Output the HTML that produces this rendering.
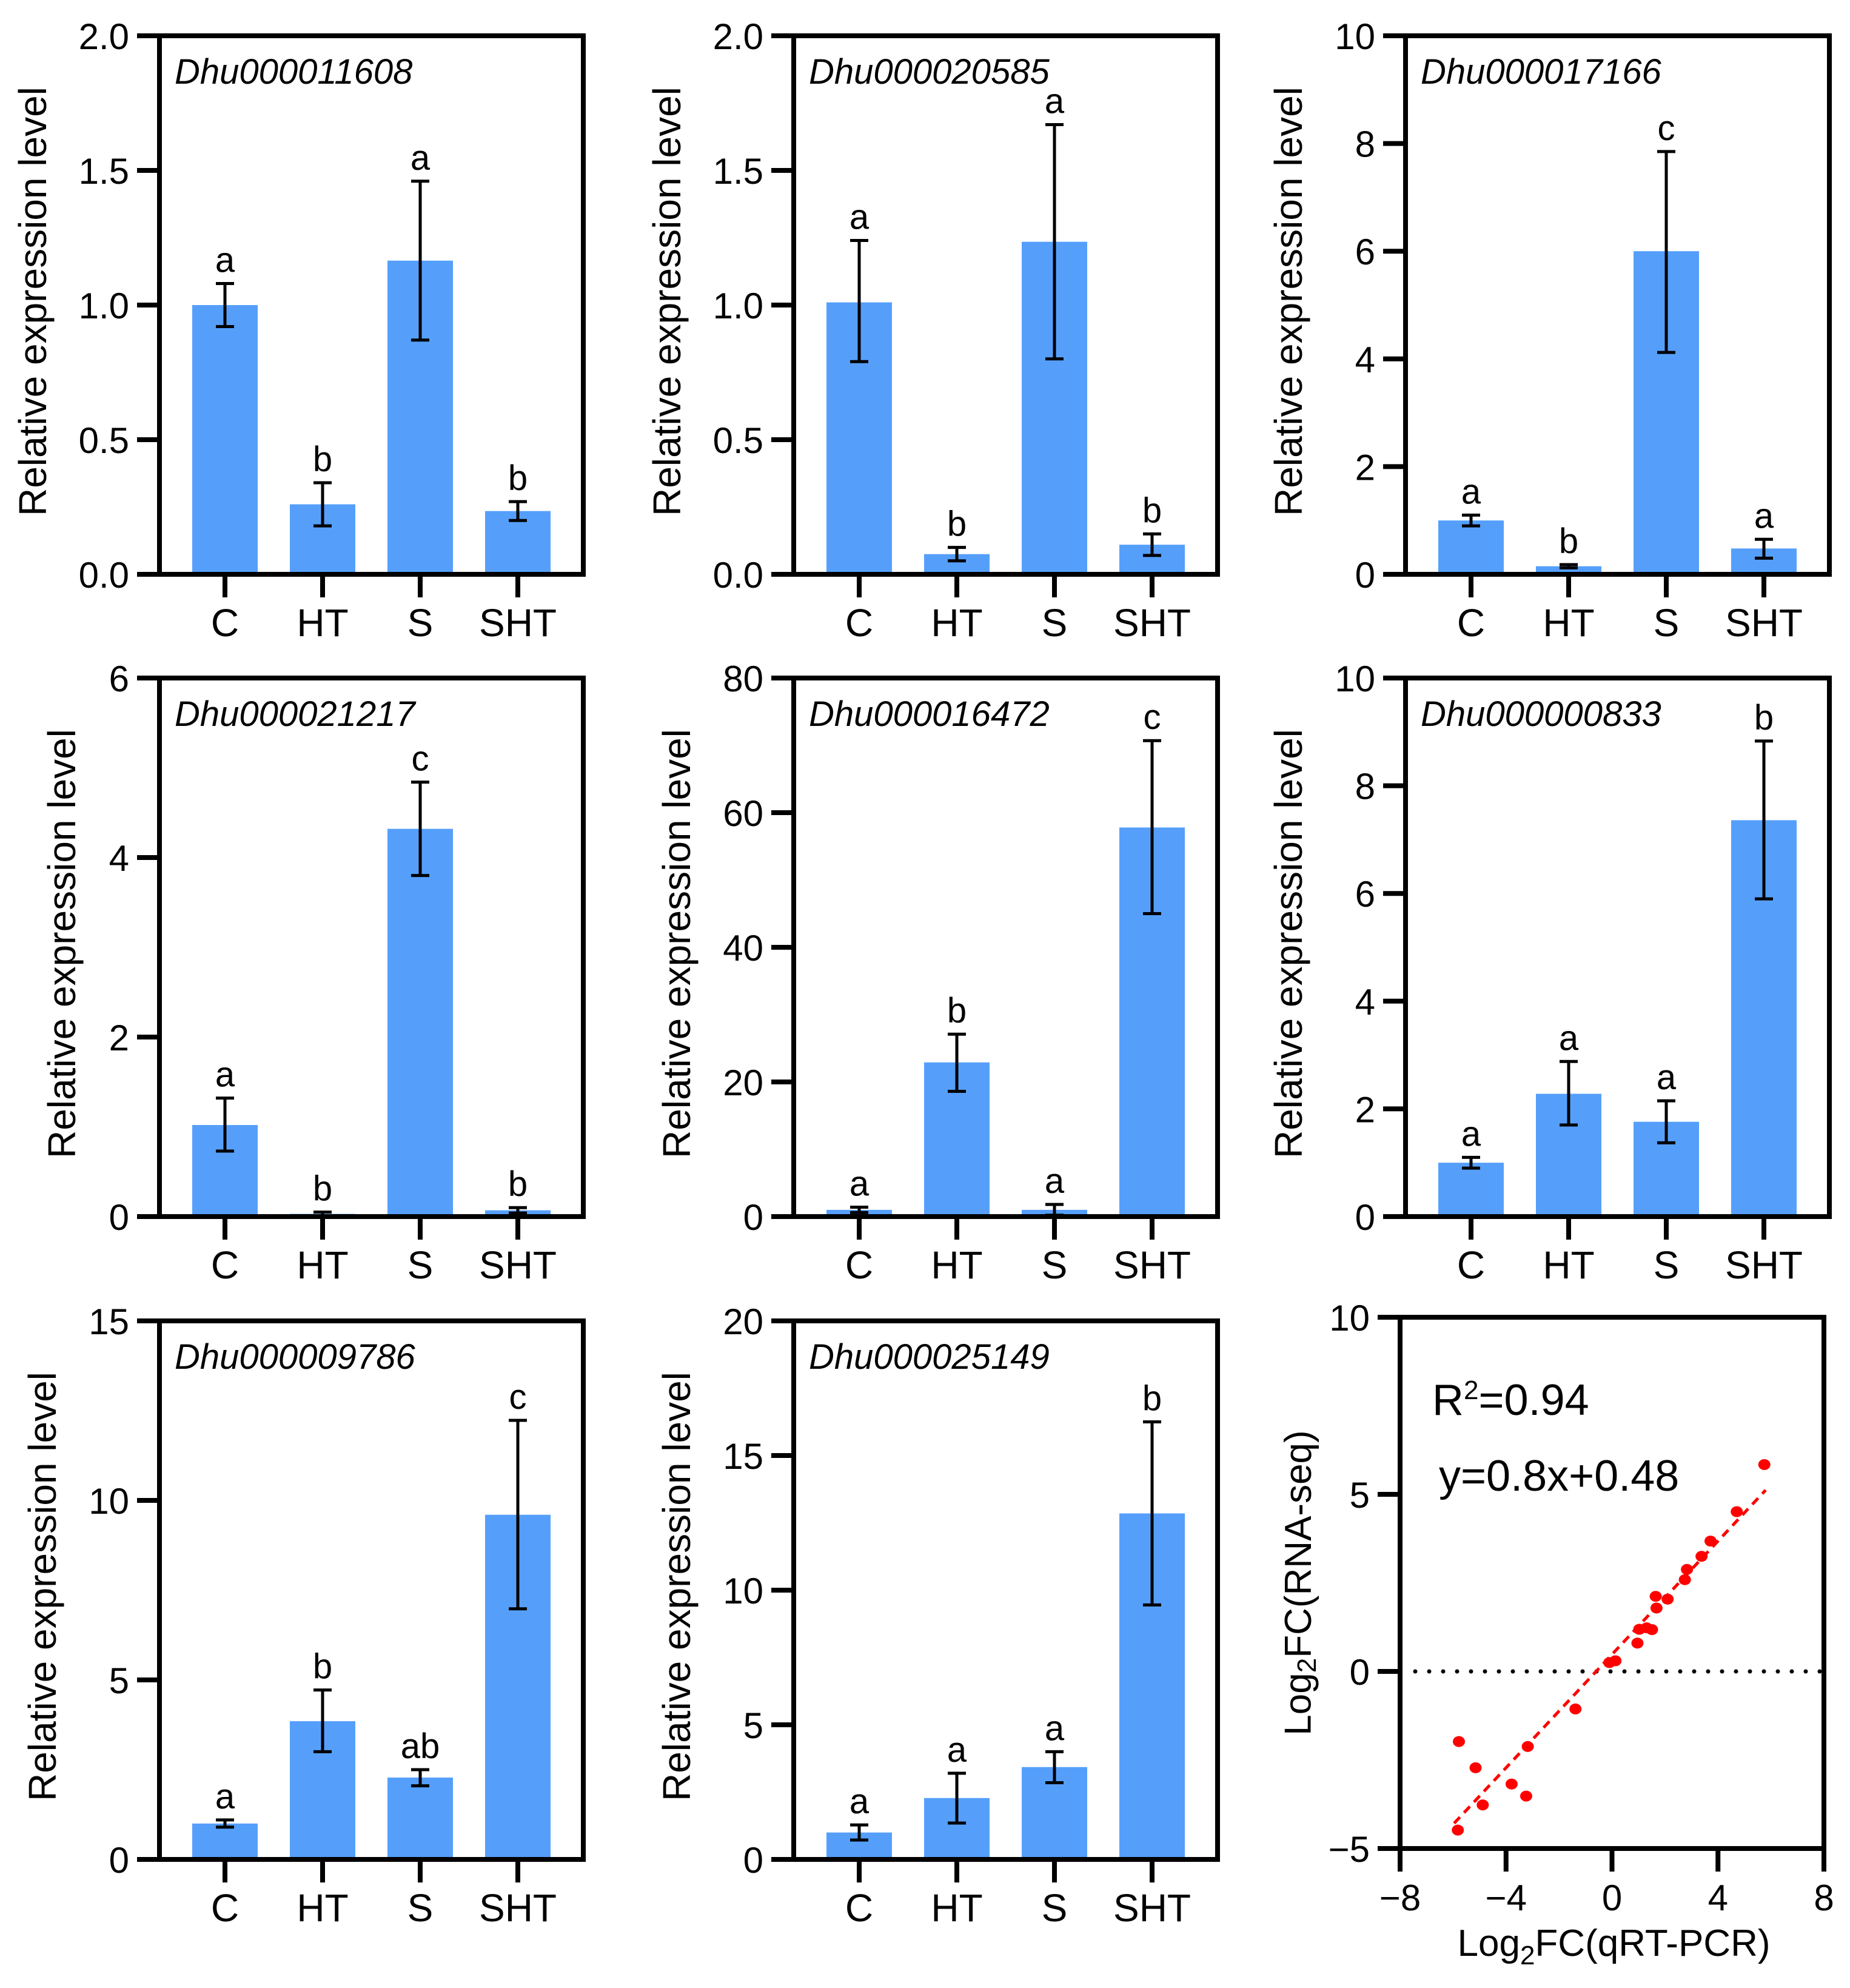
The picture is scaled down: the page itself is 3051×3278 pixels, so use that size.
<!DOCTYPE html>
<html><head><meta charset="utf-8"><style>
html,body{margin:0;padding:0;background:#fff;}
svg{display:block;font-family:"Liberation Sans",Arial,sans-serif;}
</style></head><body>
<svg id="fig" xmlns="http://www.w3.org/2000/svg" width="3051" height="3278" viewBox="0 0 3051 3278"></svg>
<script>
const categories = ["C","HT","S","SHT"];
const geneNames = ["Dhu000011608","Dhu000020585","Dhu000017166","Dhu000021217","Dhu000016472","Dhu000000833","Dhu000009786","Dhu000025149"];
const means1 = [1.0,0.26,1.165,0.235];
const lows1 = [0.92,0.18,0.87,0.2];
const highs1 = [1.08,0.34,1.46,0.27];
const letters1 = ["a","b","a","b"];
const means2 = [1.01,0.075,1.235,0.11];
const lows2 = [0.79,0.05,0.8,0.07];
const highs2 = [1.24,0.1,1.67,0.15];
const letters2 = ["a","b","a","b"];
const means3 = [1.0,0.15,6.0,0.48];
const lows3 = [0.9,0.12,4.12,0.3];
const highs3 = [1.1,0.18,7.85,0.65];
const letters3 = ["a","b","c","a"];
const means4 = [1.02,0.03,4.32,0.07];
const lows4 = [0.73,0.01,3.8,0.04];
const highs4 = [1.32,0.05,4.84,0.1];
const letters4 = ["a","b","c","b"];
const means5 = [1.0,22.9,1.0,57.8];
const lows5 = [0.6,18.6,0.2,45.0];
const highs5 = [1.4,27.1,1.8,70.7];
const letters5 = ["a","b","a","c"];
const means6 = [1.0,2.28,1.76,7.36];
const lows6 = [0.9,1.7,1.37,5.9];
const highs6 = [1.1,2.88,2.15,8.83];
const letters6 = ["a","a","a","b"];
const means7 = [1.0,3.85,2.28,9.6];
const lows7 = [0.9,3.0,2.05,6.98];
const highs7 = [1.1,4.72,2.5,12.23];
const letters7 = ["a","b","ab","c"];
const means8 = [1.0,2.28,3.43,12.85];
const lows8 = [0.72,1.35,2.85,9.45];
const highs8 = [1.28,3.2,4.0,16.25];
const letters8 = ["a","a","a","b"];
const yMaxes = [2,2,10,6,80,10,15,20];
const yTicks1 = ["0.0","0.5","1.0","1.5","2.0"];
const yTicks3 = ["0","2","4","6","8","10"];
const yTicks4 = ["0","2","4","6"];
const yTicks5 = ["0","20","40","60","80"];
const yTicks7 = ["0","5","10","15"];
const yTicks8 = ["0","5","10","15","20"];
const scatterX = [-5.78,-5.15,-4.88,-5.82,-3.79,-3.24,-3.18,-1.38,-0.10,0.13,0.96,1.03,1.31,1.51,1.68,1.65,2.10,2.75,2.83,3.38,3.72,4.71,5.75];
const scatterY = [-1.98,-2.72,-3.77,-4.48,-3.18,-3.52,-2.12,-1.06,0.25,0.30,0.80,1.19,1.23,1.18,1.79,2.12,2.04,2.59,2.88,3.25,3.68,4.51,5.84];
const fitSlope = 0.8, fitIntercept = 0.48, fitXMin = -5.96, fitXMax = 5.8;
const scatterXTicks = [-8,-4,0,4,8];
const scatterYTicks = [-5,0,5,10];

const svg = document.getElementById('fig');
const NS = "http://www.w3.org/2000/svg";
function mk(tag, attrs, text){
  const e = document.createElementNS(NS, tag);
  for (const k in attrs) e.setAttribute(k, attrs[k]);
  if (text !== undefined) e.textContent = text;
  svg.appendChild(e);
  return e;
}
const panels = [
  {m:means1,l:lows1,h:highs1,t:letters1,ticks:yTicks1},
  {m:means2,l:lows2,h:highs2,t:letters2,ticks:yTicks1},
  {m:means3,l:lows3,h:highs3,t:letters3,ticks:yTicks3},
  {m:means4,l:lows4,h:highs4,t:letters4,ticks:yTicks4},
  {m:means5,l:lows5,h:highs5,t:letters5,ticks:yTicks5},
  {m:means6,l:lows6,h:highs6,t:letters6,ticks:yTicks3},
  {m:means7,l:lows7,h:highs7,t:letters7,ticks:yTicks7},
  {m:means8,l:lows8,h:highs8,t:letters8,ticks:yTicks8}
];
const colLefts = [263,1309,2318];
const rowTops = [59,1118,2178];
const W = 699, H = 888;
const BLUE = "#559ffb";

panels.forEach((p, i) => {
  const x0 = colLefts[i % 3], y0 = rowTops[Math.floor(i / 3)];
  const yb = y0 + H;
  const max = yMaxes[i];
  const yS = v => yb - v / max * H;
  const xS = j => x0 + 108 + j * 161;
  p.m.forEach((v, j) => {
    const r = mk('rect', {x: xS(j) - 54, y: yS(v), width: 108, height: yb - yS(v), fill: BLUE});
    
    
  });
  p.m.forEach((v, j) => {
    const cx = xS(j);
    const e = mk('path', {d: `M${cx},${yS(p.l[j])}V${yS(p.h[j])}M${cx-15},${yS(p.l[j])}H${cx+15}M${cx-15},${yS(p.h[j])}H${cx+15}`, stroke: '#000', 'stroke-width': 5, fill: 'none'});
    
    
    const t = mk('text', {x: cx, y: yS(p.h[j]) - 19, 'font-size': 58, 'text-anchor': 'middle'}, p.t[j]);
    
    
  });
  const f = mk('rect', {x: x0, y: y0, width: W, height: H, fill: 'none', stroke: '#000', 'stroke-width': 8});
  
  
  const n = p.ticks.length - 1;
  p.ticks.forEach((lab, k) => {
    const v = k * max / n;
    const y = yS(v);
    const tk = mk('line', {x1: x0 - 37, x2: x0, y1: y, y2: y, stroke: '#000', 'stroke-width': 8});
    
    
    const tl = mk('text', {x: x0 - 50, y: y + 22, 'font-size': 60, 'text-anchor': 'end'}, lab);
    
    
  });
  categories.forEach((c, j) => {
    const tk = mk('line', {x1: xS(j), x2: xS(j), y1: yb, y2: yb + 38, stroke: '#000', 'stroke-width': 8});
    
    
    const tl = mk('text', {x: xS(j), y: yb + 102, 'font-size': 64, 'text-anchor': 'middle'}, c);
    
    
  });
  const g = mk('text', {x: x0 + 25, y: y0 + 79, 'font-size': 58, 'font-style': 'italic'}, geneNames[i]);
  
  
  const maxLen = Math.max(...p.ticks.map(s => s.length));
  const hasDot = p.ticks[0].indexOf('.') >= 0;
  const off = hasDot ? 209 : (maxLen >= 2 ? 193 : 161);
  const tx = x0 - off, ty = y0 + H / 2 - 6;
  const yt = mk('text', {x: tx, y: ty, 'font-size': 64, 'text-anchor': 'middle', 'dominant-baseline': 'central', transform: `rotate(-90 ${tx} ${ty})`}, 'Relative expression level');
  
  
});

(function(){
  const L = 2309, R = 3008, T = 2172, B = 3048;
  const xS = v => L + (v + 8) / 16 * (R - L);
  const yS = v => B - (v + 5) / 15 * (B - T);
  const zl = mk('line', {x1: L + 25, x2: R, y1: yS(0), y2: yS(0), stroke: '#000', 'stroke-width': 7, 'stroke-linecap': 'round', 'stroke-dasharray': '0 23'});
  
  
  const fl = mk('line', {x1: xS(fitXMin), y1: yS(fitSlope * fitXMin + fitIntercept), x2: xS(fitXMax), y2: yS(fitSlope * fitXMax + fitIntercept), stroke: '#ff0000', 'stroke-width': 5, 'stroke-dasharray': '14 10'});
  
  
  scatterX.forEach((x, k) => {
    const c = mk('ellipse', {cx: xS(x), cy: yS(scatterY[k]), rx: 10, ry: 9, fill: '#ff0000'});
    
    
  });
  const ax = mk('path', {d: `M${L},${T}H${R}V${B}M${L},${T}V${B + 38}M${L - 37},${B}H${R}`, fill: 'none', stroke: '#000', 'stroke-width': 8});
  
  
  scatterXTicks.forEach(v => {
    const tk = mk('line', {x1: xS(v), x2: xS(v), y1: B, y2: B + 38, stroke: '#000', 'stroke-width': 8});
    
    
    const tl = mk('text', {x: xS(v), y: B + 102, 'font-size': 60, 'text-anchor': 'middle'}, String(v).replace('-', '\u2212'));
    
    
  });
  scatterYTicks.forEach(v => {
    const tk = mk('line', {x1: L - 37, x2: L, y1: yS(v), y2: yS(v), stroke: '#000', 'stroke-width': 8});
    
    
    const tl = mk('text', {x: L - 50, y: yS(v) + 22, 'font-size': 60, 'text-anchor': 'end'}, String(v).replace('-', '\u2212'));
    
    
  });
  const r2 = mk('text', {x: 2362, y: 2333, 'font-size': 72});
  
  
  r2.innerHTML = 'R<tspan font-size="44" dy="-26">2</tspan><tspan dy="26">=0.94</tspan>';
  const eq = mk('text', {x: 2373, y: 2458, 'font-size': 72}, 'y=0.8x+0.48');
  
  
  const xt = mk('text', {x: (L + R) / 2 + 3, y: 3225, 'font-size': 62, 'text-anchor': 'middle'});
  
  
  xt.innerHTML = 'Log<tspan font-size="44" dy="14">2</tspan><tspan dy="-14">FC(qRT-PCR)</tspan>';
  const tx = 2141, ty = (T + B) / 2;
  const yt = mk('text', {x: tx, y: ty, 'font-size': 62, 'text-anchor': 'middle', 'dominant-baseline': 'central', transform: `rotate(-90 ${tx} ${ty})`});
  
  
  yt.innerHTML = 'Log<tspan font-size="44" dy="14">2</tspan><tspan dy="-14">FC(RNA-seq)</tspan>';
})();
</script>
</body></html>
